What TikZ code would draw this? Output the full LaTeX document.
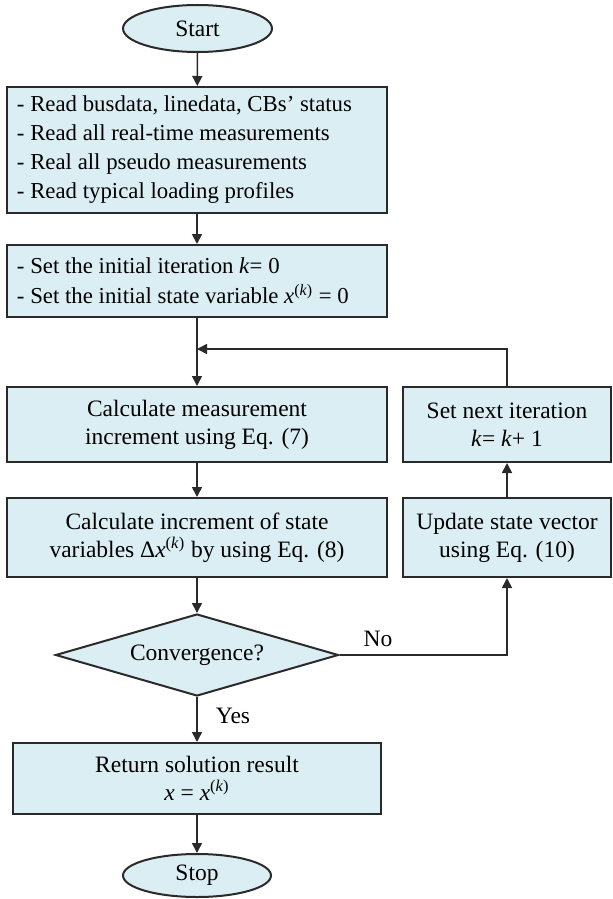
\documentclass[tikz,border=0pt]{standalone}
\usepackage{fontspec}
\setmainfont{Liberation Serif}
\usetikzlibrary{shapes.geometric,arrows.meta}
\definecolor{boxfill}{HTML}{DBEEF4}
\definecolor{boxline}{HTML}{2A2A2A}
\tikzset{
  base/.style={draw=boxline, line width=1pt, fill=boxfill, inner sep=0pt,
    font=\fontsize{11.75pt}{14pt}\selectfont},
  procbox/.style={base, rectangle, align=center},
  listbox/.style={base, rectangle, align=flush left, text width=180pt,
    font=\fontsize{11.4pt}{14.5pt}\selectfont},
  termbox/.style={base, ellipse},
  decbox/.style={base, diamond, shape aspect=3.45},
  arr/.style={draw=boxline, line width=0.8pt, -{Triangle[length=5pt,width=5pt]}},
  lbl/.style={font=\fontsize{11.75pt}{14pt}\selectfont, inner sep=0pt}
}
\newcommand{\ital}[1]{\textit{#1}}
\begin{document}
\begin{tikzpicture}[x=0.5pt,y=-0.5pt]
\useasboundingbox (0,0) rectangle (613,899);
\node[termbox, minimum width=74.5pt, minimum height=23.5pt] (start) at (197.5,28.5) {Start};
\node[listbox, minimum width=190pt, minimum height=63pt] (read) at (197,150)
  {- Read busdata, linedata, CBs' status\\
   - Read all real-time measurements\\
   - Real all pseudo measurements\\
   - Read typical loading profiles};
\node[listbox, minimum width=190pt, minimum height=36pt, font=\fontsize{11.4pt}{15pt}\selectfont] (init) at (197,281)
  {- Set the initial iteration \ital{k}= 0\\
   - Set the initial state variable \ital{x}\textsuperscript{(\ital{k})} = 0};
\coordinate (join) at (197,349);
\node[procbox, minimum width=190pt, minimum height=37.5pt] (meas) at (197,424.5)
  {Calculate measurement\\ increment using Eq. (7)};
\node[procbox, minimum width=190pt, minimum height=39.5pt] (incr) at (197,537.5)
  {Calculate increment of state\\ variables Δ\ital{x}\textsuperscript{(\ital{k})} by using Eq. (8)};
\node[procbox, minimum width=104pt, minimum height=37.5pt] (next) at (507,424.5)
  {Set next iteration\\ \ital{k}= \ital{k}+ 1};
\node[procbox, minimum width=104pt, minimum height=39.5pt] (update) at (507,537.5)
  {Update state vector\\ using Eq. (10)};
\node[decbox, minimum width=141.5pt, minimum height=41pt] (conv) at (197,655) {Convergence?};
\node[procbox, minimum width=184pt, minimum height=35.5pt] (result) at (197,778.5)
  {Return solution result\\ \ital{x} = \ital{x}\textsuperscript{(\ital{k})}};
\node[termbox, minimum width=74pt, minimum height=21.5pt] (stop) at (197,875.5) {Stop};
\node[lbl] (no) at (378,639) {No};
\node[lbl] (yes) at (233,716) {Yes};
\draw[arr] (start) -- (read);
\draw[arr] (read) -- (init);
\draw[arr] (init) -- (meas);
\draw[arr] (meas) -- (incr);
\draw[arr] (incr) -- (conv);
\draw[arr] (conv) -- (result);
\draw[arr] (result) -- (stop);
\draw[arr] (conv.east) -| (update.south);
\draw[arr] (update) -- (next);
\draw[arr] (next.north) |- (join);
\end{tikzpicture}
\end{document}
